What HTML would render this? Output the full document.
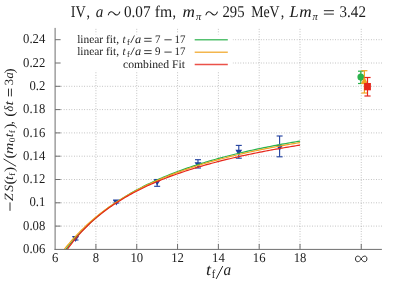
<!DOCTYPE html>
<html><head><meta charset="utf-8"><title>plot</title>
<style>
html,body{margin:0;padding:0;background:#fff;}
body{width:399px;height:283px;overflow:hidden;font-family:"Liberation Serif",serif;}
svg{display:block;will-change:transform;}
.tx{filter:grayscale(1);}
text{font-family:"Liberation Serif",serif;fill:#1c1c1c;text-rendering:geometricPrecision;}
.i{font-style:italic;}
</style></head><body>
<svg width="399" height="283" viewBox="0 0 399 283">
<defs><clipPath id="cp"><rect x="55.1" y="27.9" width="326.79999999999995" height="221.5"/></clipPath></defs>
<rect width="399" height="283" fill="#fff"/>
<g stroke="#9e9e9e" stroke-width="0.78" stroke-dasharray="0.78 1.78" fill="none">
<line x1="56.1" y1="226.10" x2="382.5" y2="226.10"/>
<line x1="56.1" y1="202.80" x2="382.5" y2="202.80"/>
<line x1="56.1" y1="179.50" x2="382.5" y2="179.50"/>
<line x1="56.1" y1="156.20" x2="382.5" y2="156.20"/>
<line x1="56.1" y1="132.90" x2="382.5" y2="132.90"/>
<line x1="56.1" y1="109.60" x2="382.5" y2="109.60"/>
<line x1="56.1" y1="86.30" x2="382.5" y2="86.30"/>
<line x1="56.1" y1="63.00" x2="382.5" y2="63.00"/>
<line x1="56.1" y1="39.70" x2="382.5" y2="39.70"/>
<line x1="95.92" y1="28.9" x2="95.92" y2="249.4"/>
<line x1="136.74" y1="28.9" x2="136.74" y2="249.4"/>
<line x1="177.56" y1="28.9" x2="177.56" y2="249.4"/>
<line x1="218.38" y1="28.9" x2="218.38" y2="249.4"/>
<line x1="259.20" y1="28.9" x2="259.20" y2="249.4"/>
<line x1="300.02" y1="28.9" x2="300.02" y2="249.4"/>
<line x1="361.25" y1="28.9" x2="361.25" y2="249.4"/>
</g>
<rect x="56" y="34.4" width="176.6" height="36.5" fill="#fff"/>
<g stroke="#1f3f9e" stroke-width="1.1" fill="#1f3f9e">
<line x1="75.51" y1="236.8" x2="75.51" y2="240.0"/>
<line x1="72.51" y1="236.8" x2="78.51" y2="236.8"/>
<line x1="72.51" y1="240.0" x2="78.51" y2="240.0"/>
<path stroke="none" d="M72.11,236.10 L78.91,236.10 L75.51,241.90 Z"/>
<line x1="116.33" y1="200.6" x2="116.33" y2="203.0"/>
<line x1="113.33" y1="200.6" x2="119.33" y2="200.6"/>
<line x1="113.33" y1="203.0" x2="119.33" y2="203.0"/>
<path stroke="none" d="M112.93,199.60 L119.73,199.60 L116.33,205.40 Z"/>
<line x1="157.15" y1="179.5" x2="157.15" y2="186.3"/>
<line x1="154.15" y1="179.5" x2="160.15" y2="179.5"/>
<line x1="154.15" y1="186.3" x2="160.15" y2="186.3"/>
<path stroke="none" d="M153.75,179.80 L160.55,179.80 L157.15,185.60 Z"/>
<line x1="197.97" y1="159.7" x2="197.97" y2="168.0"/>
<line x1="194.97" y1="159.7" x2="200.97" y2="159.7"/>
<line x1="194.97" y1="168.0" x2="200.97" y2="168.0"/>
<path stroke="none" d="M194.57,162.30 L201.37,162.30 L197.97,168.10 Z"/>
<line x1="238.79" y1="145.4" x2="238.79" y2="158.2"/>
<line x1="235.79" y1="145.4" x2="241.79" y2="145.4"/>
<line x1="235.79" y1="158.2" x2="241.79" y2="158.2"/>
<path stroke="none" d="M235.39,149.80 L242.19,149.80 L238.79,155.60 Z"/>
<line x1="279.61" y1="136.0" x2="279.61" y2="156.8"/>
<line x1="276.61" y1="136.0" x2="282.61" y2="136.0"/>
<line x1="276.61" y1="156.8" x2="282.61" y2="156.8"/>
<path stroke="none" d="M276.21,145.00 L283.01,145.00 L279.61,150.80 Z"/>
</g>
<path d="M61.22,255.75 L63.23,252.97 L65.24,250.28 L67.24,247.67 L69.25,245.14 L71.26,242.69 L73.26,240.32 L75.27,238.01 L77.28,235.77 L79.28,233.60 L81.29,231.48 L83.30,229.43 L85.30,227.43 L87.31,225.48 L89.32,223.59 L91.32,221.75 L93.33,219.95 L95.34,218.20 L97.34,216.49 L99.35,214.83 L101.36,213.21 L103.36,211.62 L105.37,210.08 L107.38,208.57 L109.38,207.09 L111.39,205.65 L113.40,204.24 L115.40,202.87 L117.41,201.52 L119.42,200.21 L121.42,198.92 L123.43,197.66 L125.44,196.43 L127.44,195.22 L129.45,194.04 L131.46,192.88 L133.46,191.74 L135.47,190.63 L137.48,189.54 L139.48,188.48 L141.49,187.43 L143.50,186.40 L145.50,185.39 L147.51,184.41 L149.52,183.44 L151.52,182.49 L153.53,181.55 L155.54,180.63 L157.54,179.73 L159.55,178.85 L161.56,177.98 L163.56,177.13 L165.57,176.29 L167.58,175.46 L169.58,174.65 L171.59,173.86 L173.60,173.07 L175.60,172.30 L177.61,171.55 L179.62,170.80 L181.62,170.07 L183.63,169.35 L185.64,168.64 L187.64,167.94 L189.65,167.25 L191.66,166.58 L193.67,165.91 L195.67,165.26 L197.68,164.61 L199.69,163.97 L201.69,163.35 L203.70,162.73 L205.71,162.12 L207.71,161.52 L209.72,160.93 L211.73,160.35 L213.73,159.78 L215.74,159.21 L217.75,158.65 L219.75,158.10 L221.76,157.56 L223.77,157.03 L225.77,156.50 L227.78,155.98 L229.79,155.47 L231.79,154.96 L233.80,154.46 L235.81,153.97 L237.81,153.48 L239.82,153.00 L241.83,152.53 L243.83,152.06 L245.84,151.60 L247.85,151.15 L249.85,150.70 L251.86,150.25 L253.87,149.81 L255.87,149.38 L257.88,148.95 L259.89,148.53 L261.89,148.11 L263.90,147.70 L265.91,147.29 L267.91,146.89 L269.92,146.49 L271.93,146.10 L273.93,145.71 L275.94,145.33 L277.95,144.95 L279.95,144.57 L281.96,144.20 L283.97,143.84 L285.97,143.47 L287.98,143.12 L289.99,142.76 L291.99,142.41 L294.00,142.06 L296.01,141.72 L298.01,141.38 L300.02,141.05" fill="none" stroke="#2bb24c" stroke-width="1.2" clip-path="url(#cp)"/>
<path d="M61.22,253.44 L63.23,250.80 L65.24,248.24 L67.24,245.75 L69.25,243.34 L71.26,241.01 L73.26,238.74 L75.27,236.53 L77.28,234.39 L79.28,232.31 L81.29,230.29 L83.30,228.32 L85.30,226.40 L87.31,224.54 L89.32,222.72 L91.32,220.95 L93.33,219.22 L95.34,217.54 L97.34,215.90 L99.35,214.30 L101.36,212.74 L103.36,211.21 L105.37,209.72 L107.38,208.27 L109.38,206.84 L111.39,205.45 L113.40,204.10 L115.40,202.77 L117.41,201.47 L119.42,200.20 L121.42,198.95 L123.43,197.73 L125.44,196.54 L127.44,195.37 L129.45,194.23 L131.46,193.11 L133.46,192.01 L135.47,190.93 L137.48,189.88 L139.48,188.84 L141.49,187.83 L143.50,186.83 L145.50,185.85 L147.51,184.89 L149.52,183.95 L151.52,183.03 L153.53,182.12 L155.54,181.23 L157.54,180.36 L159.55,179.50 L161.56,178.65 L163.56,177.82 L165.57,177.01 L167.58,176.20 L169.58,175.42 L171.59,174.64 L173.60,173.88 L175.60,173.13 L177.61,172.39 L179.62,171.67 L181.62,170.95 L183.63,170.25 L185.64,169.56 L187.64,168.88 L189.65,168.21 L191.66,167.55 L193.67,166.90 L195.67,166.26 L197.68,165.63 L199.69,165.01 L201.69,164.40 L203.70,163.79 L205.71,163.20 L207.71,162.62 L209.72,162.04 L211.73,161.47 L213.73,160.91 L215.74,160.36 L217.75,159.81 L219.75,159.28 L221.76,158.75 L223.77,158.22 L225.77,157.71 L227.78,157.20 L229.79,156.70 L231.79,156.20 L233.80,155.72 L235.81,155.23 L237.81,154.76 L239.82,154.29 L241.83,153.83 L243.83,153.37 L245.84,152.92 L247.85,152.47 L249.85,152.03 L251.86,151.60 L253.87,151.17 L255.87,150.74 L257.88,150.32 L259.89,149.91 L261.89,149.50 L263.90,149.10 L265.91,148.70 L267.91,148.30 L269.92,147.91 L271.93,147.53 L273.93,147.15 L275.94,146.77 L277.95,146.40 L279.95,146.03 L281.96,145.67 L283.97,145.31 L285.97,144.95 L287.98,144.60 L289.99,144.25 L291.99,143.91 L294.00,143.57 L296.01,143.23 L298.01,142.90 L300.02,142.57" fill="none" stroke="#f0a422" stroke-width="1.2" clip-path="url(#cp)"/>
<path d="M61.22,258.46 L63.23,255.33 L65.24,252.34 L67.24,249.46 L69.25,246.70 L71.26,244.05 L73.26,241.49 L75.27,239.03 L77.28,236.66 L79.28,234.37 L81.29,232.16 L83.30,230.03 L85.30,227.97 L87.31,225.97 L89.32,224.04 L91.32,222.17 L93.33,220.35 L95.34,218.59 L97.34,216.88 L99.35,215.22 L101.36,213.61 L103.36,212.04 L105.37,210.52 L107.38,209.03 L109.38,207.59 L111.39,206.18 L113.40,204.81 L115.40,203.47 L117.41,202.17 L119.42,200.90 L121.42,199.66 L123.43,198.45 L125.44,197.26 L127.44,196.11 L129.45,194.98 L131.46,193.87 L133.46,192.79 L135.47,191.73 L137.48,190.70 L139.48,189.68 L141.49,188.69 L143.50,187.72 L145.50,186.77 L147.51,185.83 L149.52,184.92 L151.52,184.02 L153.53,183.14 L155.54,182.28 L157.54,181.43 L159.55,180.60 L161.56,179.79 L163.56,178.98 L165.57,178.20 L167.58,177.42 L169.58,176.67 L171.59,175.92 L173.60,175.19 L175.60,174.46 L177.61,173.76 L179.62,173.06 L181.62,172.37 L183.63,171.70 L185.64,171.03 L187.64,170.38 L189.65,169.74 L191.66,169.11 L193.67,168.48 L195.67,167.87 L197.68,167.27 L199.69,166.67 L201.69,166.08 L203.70,165.51 L205.71,164.94 L207.71,164.38 L209.72,163.83 L211.73,163.28 L213.73,162.74 L215.74,162.21 L217.75,161.69 L219.75,161.18 L221.76,160.67 L223.77,160.17 L225.77,159.67 L227.78,159.19 L229.79,158.71 L231.79,158.23 L233.80,157.76 L235.81,157.30 L237.81,156.84 L239.82,156.39 L241.83,155.95 L243.83,155.51 L245.84,155.07 L247.85,154.65 L249.85,154.22 L251.86,153.80 L253.87,153.39 L255.87,152.98 L257.88,152.58 L259.89,152.18 L261.89,151.79 L263.90,151.40 L265.91,151.01 L267.91,150.63 L269.92,150.26 L271.93,149.89 L273.93,149.52 L275.94,149.16 L277.95,148.80 L279.95,148.44 L281.96,148.09 L283.97,147.74 L285.97,147.40 L287.98,147.06 L289.99,146.73 L291.99,146.39 L294.00,146.06 L296.01,145.74 L298.01,145.42 L300.02,145.10" fill="none" stroke="#e6261b" stroke-width="1.2" clip-path="url(#cp)"/>
<g stroke="#6e6e6e" stroke-width="1.0" fill="none">
<line x1="55.1" y1="27.9" x2="55.1" y2="249.95000000000002"/>
<line x1="54.550000000000004" y1="249.4" x2="381.9" y2="249.4"/>
<line x1="55.1" y1="226.10" x2="60.6" y2="226.10"/>
<line x1="55.1" y1="202.80" x2="60.6" y2="202.80"/>
<line x1="55.1" y1="179.50" x2="60.6" y2="179.50"/>
<line x1="55.1" y1="156.20" x2="60.6" y2="156.20"/>
<line x1="55.1" y1="132.90" x2="60.6" y2="132.90"/>
<line x1="55.1" y1="109.60" x2="60.6" y2="109.60"/>
<line x1="55.1" y1="86.30" x2="60.6" y2="86.30"/>
<line x1="55.1" y1="63.00" x2="60.6" y2="63.00"/>
<line x1="55.1" y1="39.70" x2="60.6" y2="39.70"/>
<line x1="95.92" y1="249.4" x2="95.92" y2="243.9"/>
<line x1="136.74" y1="249.4" x2="136.74" y2="243.9"/>
<line x1="177.56" y1="249.4" x2="177.56" y2="243.9"/>
<line x1="218.38" y1="249.4" x2="218.38" y2="243.9"/>
<line x1="259.20" y1="249.4" x2="259.20" y2="243.9"/>
<line x1="300.02" y1="249.4" x2="300.02" y2="243.9"/>
<line x1="361.25" y1="249.4" x2="361.25" y2="243.9"/>
</g>
<g stroke="#2bb24c" stroke-width="1.2"><line x1="360.8" y1="71.2" x2="360.8" y2="83.5"/><line x1="358.0" y1="71.2" x2="363.6" y2="71.2"/><line x1="358.0" y1="83.5" x2="363.6" y2="83.5"/></g>
<ellipse cx="360.8" cy="77.1" rx="3.4" ry="3.55" fill="#2bb24c"/>
<g stroke="#f0a422" stroke-width="1.2"><line x1="364.4" y1="70.7" x2="364.4" y2="93.0"/><line x1="361.4" y1="70.7" x2="367.4" y2="70.7"/><line x1="361.4" y1="93.0" x2="367.4" y2="93.0"/></g>
<path d="M364.4,76.8 L368.0,83.9 L360.8,83.9 Z" fill="#f0a422"/>
<g stroke="#e6261b" stroke-width="1.2"><line x1="367.5" y1="77.5" x2="367.5" y2="96.0"/><line x1="364.4" y1="77.5" x2="370.6" y2="77.5"/><line x1="364.4" y1="96.0" x2="370.6" y2="96.0"/></g>
<rect x="364.1" y="83.0" width="6.8" height="7.3" fill="#e6261b"/>
<line x1="194.7" y1="39.8" x2="227.8" y2="39.8" stroke="#2bb24c" stroke-width="1.5" stroke-opacity="0.8"/>
<line x1="194.7" y1="52.3" x2="227.8" y2="52.3" stroke="#f0a422" stroke-width="1.5" stroke-opacity="0.8"/>
<line x1="194.7" y1="64.4" x2="227.8" y2="64.4" stroke="#e6261b" stroke-width="1.5" stroke-opacity="0.8"/>
<g class="tx">
<text transform="translate(0,42.9) scale(1,1.06)" font-size="10.9" ><tspan x="77.2" textLength="41.8" lengthAdjust="spacingAndGlyphs">linear fit,</tspan><tspan x="122.6" class="i">t</tspan><tspan x="126.9" dy="1.7" font-size="8.2">f</tspan><tspan x="130.3" dy="-1.7" textLength="4.6" lengthAdjust="spacingAndGlyphs">/</tspan><tspan x="134.9" class="i" textLength="6.2" lengthAdjust="spacingAndGlyphs">a</tspan><tspan x="155">7</tspan><tspan x="174.5">17</tspan></text><path d="M144.2,38.35 h7.4 M144.2,41.25 h7.4 M164.4,39.80 h7.3" fill="none" stroke="#1c1c1c" stroke-width="0.85"/>
<text transform="translate(0,55.2) scale(1,1.06)" font-size="10.9" ><tspan x="77.2" textLength="41.8" lengthAdjust="spacingAndGlyphs">linear fit,</tspan><tspan x="122.6" class="i">t</tspan><tspan x="126.9" dy="1.7" font-size="8.2">f</tspan><tspan x="130.3" dy="-1.7" textLength="4.6" lengthAdjust="spacingAndGlyphs">/</tspan><tspan x="134.9" class="i" textLength="6.2" lengthAdjust="spacingAndGlyphs">a</tspan><tspan x="155">9</tspan><tspan x="174.5">17</tspan></text><path d="M144.2,50.65 h7.4 M144.2,53.55 h7.4 M164.4,52.10 h7.3" fill="none" stroke="#1c1c1c" stroke-width="0.85"/>
<text transform="translate(0,67.7) scale(1,1.06)" font-size="10.9" ><tspan x="123" textLength="62" lengthAdjust="spacingAndGlyphs">combined Fit</tspan></text>
<text transform="translate(0,17.2) scale(1,1.15)" font-size="14.2" ><tspan x="70.8">IV</tspan><tspan x="86.6">,</tspan><tspan x="95.8" textLength="7.6" lengthAdjust="spacingAndGlyphs" class="i">a</tspan><tspan x="123.9" textLength="26.6" lengthAdjust="spacingAndGlyphs">0.07</tspan><tspan x="154.7" textLength="17.4" lengthAdjust="spacingAndGlyphs">fm</tspan><tspan x="172.6">,</tspan><tspan x="182.6" textLength="12.4" lengthAdjust="spacingAndGlyphs" class="i">m</tspan><tspan x="195.9" textLength="5.2" lengthAdjust="spacingAndGlyphs" class="i" font-size="9.4" dy="2.3">π</tspan><tspan x="222.5" textLength="22.0" lengthAdjust="spacingAndGlyphs" dy="-2.3">295</tspan><tspan x="251.2" textLength="28.4" lengthAdjust="spacingAndGlyphs">MeV</tspan><tspan x="280.8">,</tspan><tspan x="289.6" textLength="9.2" lengthAdjust="spacingAndGlyphs" class="i">L</tspan><tspan x="299.2" textLength="12.4" lengthAdjust="spacingAndGlyphs" class="i">m</tspan><tspan x="312.6" textLength="5.2" lengthAdjust="spacingAndGlyphs" class="i" font-size="9.4" dy="2.3">π</tspan><tspan x="339.6" textLength="26.3" lengthAdjust="spacingAndGlyphs" dy="-2.3">3.42</tspan></text>
<path d="M108.30,14.86 C109.45,10.96 112.09,10.96 114.05,13.40 C116.00,15.84 118.65,15.84 119.80,11.94" fill="none" stroke="#1c1c1c" stroke-width="1.05" stroke-linecap="round"/>
<path d="M205.90,14.86 C207.05,10.96 209.69,10.96 211.65,13.40 C213.61,15.84 216.25,15.84 217.40,11.94" fill="none" stroke="#1c1c1c" stroke-width="1.05" stroke-linecap="round"/>
<path d="M323.9,10.70 h10 M323.9,14.10 h10" fill="none" stroke="#1c1c1c" stroke-width="0.95"/>
<text transform="translate(0,253.0) scale(1,1.06)" font-size="12.7" ><tspan x="45.3" text-anchor="end">0.06</tspan></text>
<text transform="translate(0,229.7) scale(1,1.06)" font-size="12.7" ><tspan x="45.3" text-anchor="end">0.08</tspan></text>
<text transform="translate(0,206.4) scale(1,1.06)" font-size="12.7" ><tspan x="45.3" text-anchor="end">0.1</tspan></text>
<text transform="translate(0,183.1) scale(1,1.06)" font-size="12.7" ><tspan x="45.3" text-anchor="end">0.12</tspan></text>
<text transform="translate(0,159.8) scale(1,1.06)" font-size="12.7" ><tspan x="45.3" text-anchor="end">0.14</tspan></text>
<text transform="translate(0,136.5) scale(1,1.06)" font-size="12.7" ><tspan x="45.3" text-anchor="end">0.16</tspan></text>
<text transform="translate(0,113.2) scale(1,1.06)" font-size="12.7" ><tspan x="45.3" text-anchor="end">0.18</tspan></text>
<text transform="translate(0,89.9) scale(1,1.06)" font-size="12.7" ><tspan x="45.3" text-anchor="end">0.2</tspan></text>
<text transform="translate(0,66.6) scale(1,1.06)" font-size="12.7" ><tspan x="45.3" text-anchor="end">0.22</tspan></text>
<text transform="translate(0,43.3) scale(1,1.06)" font-size="12.7" ><tspan x="45.3" text-anchor="end">0.24</tspan></text>
<text transform="translate(0,261.6) scale(1,1.06)" font-size="12.7" ><tspan x="55.10" text-anchor="middle">6</tspan></text>
<text transform="translate(0,261.6) scale(1,1.06)" font-size="12.7" ><tspan x="95.92" text-anchor="middle">8</tspan></text>
<text transform="translate(0,261.6) scale(1,1.06)" font-size="12.7" ><tspan x="136.74" text-anchor="middle">10</tspan></text>
<text transform="translate(0,261.6) scale(1,1.06)" font-size="12.7" ><tspan x="177.56" text-anchor="middle">12</tspan></text>
<text transform="translate(0,261.6) scale(1,1.06)" font-size="12.7" ><tspan x="218.38" text-anchor="middle">14</tspan></text>
<text transform="translate(0,261.6) scale(1,1.06)" font-size="12.7" ><tspan x="259.20" text-anchor="middle">16</tspan></text>
<text transform="translate(0,261.6) scale(1,1.06)" font-size="12.7" ><tspan x="300.02" text-anchor="middle">18</tspan></text>
<path d="M361.2,258.9 C363.0,255.2 366.9,255.2 366.9,258.9 C366.9,262.59999999999997 363.0,262.59999999999997 361.2,258.9 C359.4,255.2 355.5,255.2 355.5,258.9 C355.5,262.59999999999997 359.4,262.59999999999997 361.2,258.9 Z" fill="none" stroke="#1c1c1c" stroke-width="0.95"/>
<text transform="translate(0,275.4) scale(1,1.15)" font-size="14.2" ><tspan x="205.9" textLength="5.0" lengthAdjust="spacingAndGlyphs" class="i">t</tspan><tspan x="211.7" font-size="10.4" dy="2.2">f</tspan><tspan x="223.5" textLength="7.6" lengthAdjust="spacingAndGlyphs" class="i" dy="-2.2">a</tspan></text>
<path d="M216.2,278.9 L222.8,266.0" fill="none" stroke="#1c1c1c" stroke-width="0.95"/>
<g transform="translate(13.2,0) rotate(-90)">
<text transform="translate(-201,0) scale(1.1,1)" font-size="12.6" class="i">Z</text>
<text transform="translate(-191.8,0) scale(1.1,1)" font-size="12.6" class="i">S</text>
<text transform="translate(-184.6,0.7) scale(1.1,1)" font-size="14.0">(</text>
<text transform="translate(-179.9,0) scale(1.1,1)" font-size="12.6" class="i">t</text>
<text transform="translate(-176.0,2) scale(1.1,1)" font-size="8.6">f</text>
<text transform="translate(-172.0,0.7) scale(1.1,1)" font-size="14.0">)</text>
<text transform="translate(-158.6,0.7) scale(1.1,1)" font-size="14.0">(</text>
<text transform="translate(-153.9,0) scale(1.25,1)" font-size="12.6" class="i">m</text>
<text transform="translate(-142.3,2) scale(1.1,1)" font-size="8.6">0</text>
<text transform="translate(-137.2,0) scale(1.1,1)" font-size="12.6" class="i">t</text>
<text transform="translate(-133.2,2) scale(1.1,1)" font-size="8.6">f</text>
<text transform="translate(-128.8,0.7) scale(1.1,1)" font-size="14.0">)</text>
<text transform="translate(-124.6,0) scale(1.1,1)" font-size="12.6">,</text>
<text transform="translate(-116.7,0.7) scale(1.1,1)" font-size="14.0">(</text>
<text transform="translate(-111.4,0) scale(0.95,1)" font-size="12.6" class="i">δ</text>
<text transform="translate(-105.6,0) scale(1.25,1)" font-size="12.6" class="i">t</text>
<text transform="translate(-85.2,0) scale(1.0,1)" font-size="12.6">3</text>
<text transform="translate(-78.5,0) scale(1.0,1)" font-size="12.6" class="i">a</text>
<text transform="translate(-73.4,0.7) scale(1.1,1)" font-size="14.0">)</text>
<path d="M-210.8,-3.2 h8.4 M-166.3,2.9 L-158.9,-9.7 M-96.4,-1.8 h7.8 M-96.4,-4.7 h7.8" fill="none" stroke="#1c1c1c" stroke-width="0.9"/>
</g>
</g>
</g>
</svg></body></html>
